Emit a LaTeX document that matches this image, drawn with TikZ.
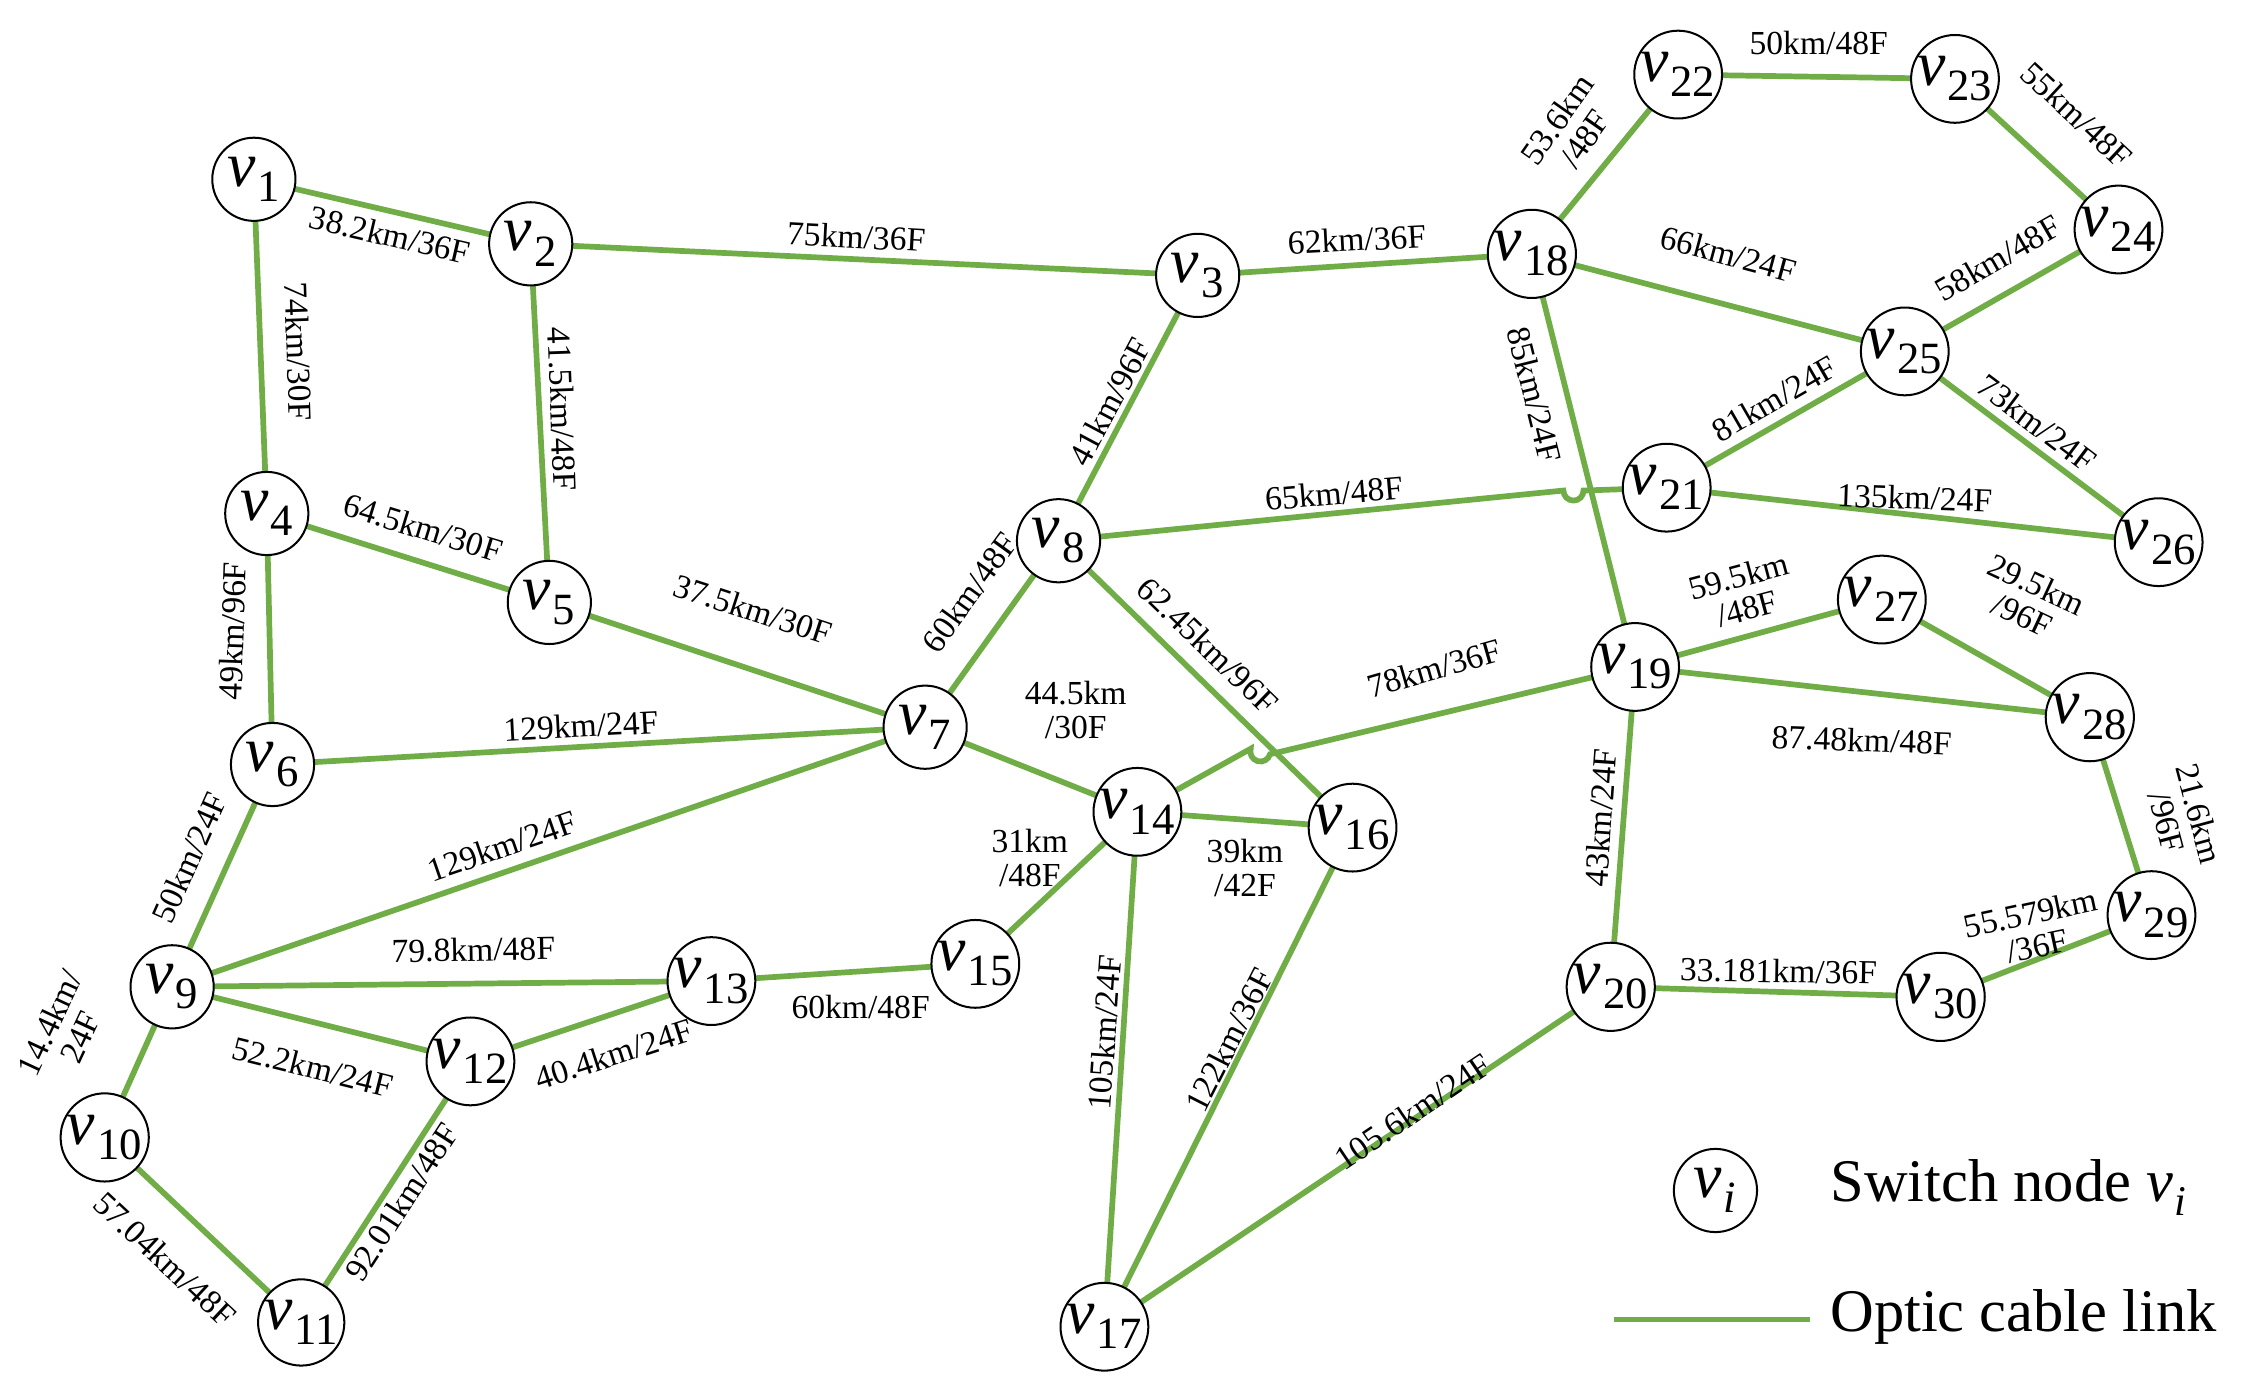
\documentclass[tikz,border=0pt]{standalone}
\usepackage{fontspec}
\setmainfont{Liberation Serif}
\newcommand{\vv}[1]{\textit{v}\kern0.03em\textsubscript{#1}}
\begin{document}
\begin{tikzpicture}[x=0.03cm,y=-0.03cm,
  sw/.style={circle,draw,line width=1.2pt,minimum size=1.74cm,inner sep=0pt,fill=white,font=\fontsize{38}{40}\selectfont},
  lk/.style={draw={rgb,255:red,112;green,173;blue,71},line width=3.4pt},
  lb/.style={font=\fontsize{20}{20}\selectfont,inner sep=1pt,align=center}]
\useasboundingbox (0,0) rectangle (1568,973);
\foreach \n/\x/\y in {1/177/125,2/370/170,3/835/192,4/186/358,5/383/420,6/190/533,7/645/507,8/738/377,9/120/688,10/73/793,11/210/922,12/328/740,13/496/684,14/793/566,15/680/672,16/943/577,17/770/925,18/1068/177,19/1140/465,20/1123/688,21/1162/340,22/1170/52,23/1363/55,24/1477/160,25/1328/245,26/1505/378,27/1312/418,28/1457/500,29/1500/638,30/1353/695}
  \coordinate (c\n) at (\x,\y);
\foreach \a/\b in {1/2,2/3,3/18,1/4,2/5,4/5,4/6,5/7,6/7,9/7,6/9,9/10,9/13,9/12,12/13,11/12,10/11,13/15,15/14,7/8,8/3,8/16,7/14,14/16,14/17,16/17,20/19,17/20,20/30,30/29,29/28,19/28,19/27,27/28,21/26,21/25,25/26,18/25,25/24,18/22,22/23,23/24,18/19}
  \draw[lk] (c\a) -- (c\b);
\draw[lk] (c8) -- (1090,342) arc[start angle=180,end angle=0,radius=7] -- (c21);
\draw[lk] (c14) -- (872,522) arc[start angle=196,end angle=16,radius=7] -- (c19);
\foreach \n in {1,...,30} \node[sw] (v\n) at (c\n) {\vv{\n}};
\node[lb,rotate=-13] at (272,164) {38.2km/36F};
\node[lb,rotate=-3] at (597,165) {75km/36F};
\node[lb,rotate=3] at (946,167) {62km/36F};
\node[lb,rotate=-88] at (208,245) {74km/30F};
\node[lb,rotate=-88] at (392,285) {41.5km/48F};
\node[lb,rotate=-17] at (295,368) {64.5km/30F};
\node[lb,rotate=88] at (162,440) {49km/96F};
\node[lb,rotate=-18] at (525,425) {37.5km/30F};
\node[lb,rotate=3] at (405,506) {129km/24F};
\node[lb,rotate=19] at (350,590) {129km/24F};
\node[lb,rotate=66] at (132,598) {50km/24F};
\node[lb,rotate=65] at (45,718) {14.4km/\\24F};
\node[lb,rotate=1] at (330,662) {79.8km/48F};
\node[lb,rotate=-14] at (218,744) {52.2km/24F};
\node[lb,rotate=18] at (428,735) {40.4km/24F};
\node[lb,rotate=57] at (280,838) {92.01km/48F};
\node[lb,rotate=-43] at (115,878) {57.04km/48F};
\node[lb] at (600,702) {60km/48F};
\node[lb] at (718,598) {31km\\/48F};
\node[lb,rotate=54] at (676,413) {60km/48F};
\node[lb,rotate=62] at (774,280) {41km/96F};
\node[lb,rotate=5] at (930,344) {65km/48F};
\node[lb,rotate=-44] at (842,450) {62.45km/96F};
\node[lb] at (750,495) {44.5km\\/30F};
\node[lb] at (868,605) {39km\\/42F};
\node[lb,rotate=86] at (770,720) {105km/24F};
\node[lb,rotate=63] at (857,725) {122km/36F};
\node[lb,rotate=16] at (1000,466) {78km/36F};
\node[lb,rotate=34] at (985,775) {105.6km/24F};
\node[lb,rotate=86] at (1116,570) {43km/24F};
\node[lb,rotate=-1] at (1240,677) {33.181km/36F};
\node[lb,rotate=12] at (1418,648) {55.579km\\/36F};
\node[lb,rotate=-75] at (1522,570) {21.6km\\/96F};
\node[lb,rotate=-2] at (1298,516) {87.48km/48F};
\node[lb,rotate=15] at (1215,413) {59.5km\\/48F};
\node[lb,rotate=-25] at (1415,418) {29.5km\\/96F};
\node[lb,rotate=-2] at (1335,347) {135km/24F};
\node[lb,rotate=30] at (1237,278) {81km/24F};
\node[lb,rotate=-37] at (1420,295) {73km/24F};
\node[lb,rotate=-76] at (1070,275) {85km/24F};
\node[lb,rotate=-15] at (1205,177) {66km/24F};
\node[lb,rotate=30] at (1393,180) {58km/48F};
\node[lb,rotate=55] at (1095,90) {53.6km\\/48F};
\node[lb] at (1268,30) {50km/48F};
\node[lb,rotate=-43] at (1448,80) {55km/48F};
\node[sw] (leg) at (1196,830) {\textit{v}\kern0.03em\textsubscript{\textit{i}}};
\node[anchor=west,font=\fontsize{36}{38}\selectfont] (legt) at (1272,828) {Switch node \vv{\textit{i}}};
\coordinate (la) at (1125,920); \coordinate (lb2) at (1262,920);
\draw[lk] (la) -- (lb2);
\node[anchor=west,font=\fontsize{36}{38}\selectfont] (legl) at (1272,918) {Optic cable link};
\end{tikzpicture}
\end{document}
